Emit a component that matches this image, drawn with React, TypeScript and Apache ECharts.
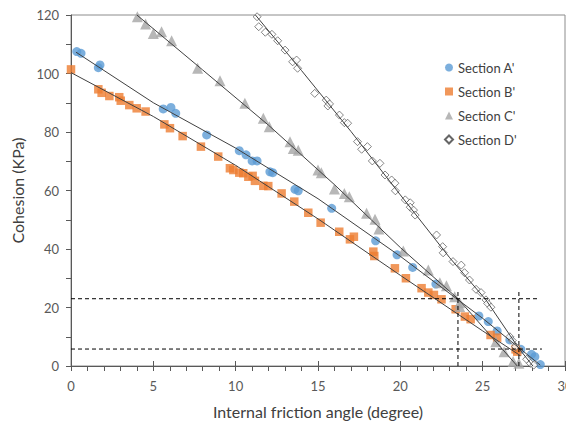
import React, { useEffect, useRef } from "react";
import * as echarts from "echarts";

// Scatter data: [friction angle (deg), cohesion (KPa)]
const sectionA: number[][] = [
  [0.35, 107.5], [0.61, 106.9], [1.66, 102.0], [1.76, 102.9], [5.6, 87.9], [6.07, 88.4],
  [6.36, 86.4], [8.24, 79.0], [10.22, 73.6], [10.63, 72.2], [11.0, 70.1], [11.3, 70.1],
  [12.08, 66.4], [12.25, 66.1], [13.6, 60.4], [13.8, 59.9], [15.83, 53.9], [18.5, 42.8],
  [19.8, 38.0], [20.75, 33.7], [22.16, 28.0], [24.77, 17.1], [25.34, 15.2], [25.88, 12.0],
  [26.65, 8.9], [27.32, 5.7], [27.97, 4.0], [28.17, 3.2], [28.5, 0.5],
];
const sectionB: number[][] = [
  [0, 101.4], [1.66, 94.6], [1.86, 93.4], [2.33, 92.3], [2.93, 91.9], [3.02, 90.7],
  [3.54, 89.2], [3.99, 88.1], [4.53, 87.0], [5.67, 82.6], [6.01, 81.3], [6.78, 78.6],
  [7.89, 75.0], [8.94, 71.6], [9.65, 67.6], [9.86, 67.0], [10.22, 66.1], [10.46, 65.9],
  [10.77, 64.7], [11.03, 65.0], [11.17, 63.3], [11.68, 61.6], [11.98, 61.5], [12.79, 59.0],
  [13.56, 56.2], [14.41, 52.4], [15.16, 49.0], [16.29, 45.9], [16.94, 43.3], [17.18, 44.2],
  [18.36, 39.1], [18.42, 37.6], [19.67, 33.4], [20.34, 30.0], [21.29, 26.6], [21.7, 25.1],
  [22.04, 24.3], [22.5, 22.8], [23.36, 19.4], [23.92, 16.9], [24.27, 16.0], [25.48, 10.6],
  [25.88, 9.7], [27.0, 5.7], [27.1, 4.9],
];
const sectionC: number[][] = [
  [4.03, 119.4], [4.53, 116.9], [5.0, 113.7], [5.5, 114.3], [6.11, 111.2], [7.69, 101.8],
  [9.05, 97.5], [10.56, 89.8], [11.68, 84.7], [12.04, 81.8], [13.3, 76.7], [13.5, 74.4],
  [13.8, 73.8], [15.0, 67.0], [15.2, 66.1], [16.0, 60.5], [16.6, 59.0], [16.9, 57.9],
  [17.95, 52.2], [18.46, 50.2], [18.7, 46.8], [20.18, 39.3], [21.7, 32.8], [22.4, 28.5],
  [22.8, 27.4], [23.3, 23.7], [23.6, 21.6], [23.6, 20.3], [25.8, 8.3], [26.3, 4.9],
  [26.85, 1.5], [27.2, 0.9],
];
const sectionD: number[][] = [
  [11.3, 119.4], [11.4, 116.0], [11.8, 114.1], [12.2, 113.4], [12.55, 111.2], [13.0, 108.0],
  [13.46, 104.0], [13.7, 104.6], [13.76, 101.8], [14.8, 93.2], [15.5, 90.9], [15.6, 88.9],
  [15.7, 89.6], [16.3, 85.8], [16.6, 83.2], [16.8, 83.0], [17.4, 76.7], [17.65, 74.1],
  [18.0, 75.0], [18.3, 70.1], [18.76, 69.3], [19.07, 65.3], [19.47, 63.6], [19.67, 62.5],
  [19.7, 59.9], [20.3, 56.8], [20.6, 55.8], [20.6, 54.3], [20.8, 53.3], [20.9, 51.6],
  [22.2, 44.8], [22.57, 40.8], [22.6, 38.7], [23.2, 35.7], [23.7, 34.5], [23.9, 31.9],
  [24.2, 29.4], [24.6, 26.2], [24.9, 25.1], [25.2, 22.6], [25.3, 21.4], [25.5, 20.1],
  [26.65, 10.0], [26.8, 8.7], [27.0, 6.6], [27.67, 2.3], [27.9, 0.9], [28.1, 0.3],
];

// Trend lines
const trendA: number[][] = [[0.3, 107.3], [5, 90], [10, 74.5], [15, 57.2], [20, 37.5], [25, 16.3], [28.5, 0.3]];
const trendB: number[][] = [[0, 100.3], [5, 85.3], [10, 68.6], [15, 50.3], [20, 31], [25, 12], [27.3, 3.5]];
const trendC: number[][] = [[4, 120], [8, 101.2], [12, 82.3], [16, 62], [20, 40.5], [23.5, 23], [27.1, 0]];
const trendD: number[][] = [[11.2, 120], [14, 101], [17, 80.2], [20, 58.5], [23, 37], [25.2, 22.6], [27.2, 6], [28.05, 0]];

// Dashed reference lines
const refUpperH: number[][] = [[0, 23], [28.4, 23]];
const refUpperV: number[][] = [[23.5, 0], [23.5, 26.3]];
const refLowerH: number[][] = [[0, 5.8], [28.6, 5.8]];
const refLowerV: number[][] = [[27.2, 0], [27.2, 25.4]];

const seriesNames = ["Section A'", "Section B'", "Section C'", "Section D'"];

const FONT = "Lato";

export default function App() {
  const ref = useRef<HTMLDivElement>(null);
  useEffect(() => {
    if (!ref.current) return;
    const chart = echarts.init(ref.current, undefined, { renderer: "svg" });
    const trendStyle = { color: "#404040", width: 1 };
    const dashStyle = { color: "#000", width: 1, type: [4, 3] as any };
    const mkLine = (data: number[][], style: any, z = 3) => ({
      type: "line",
      data,
      showSymbol: false,
      symbol: "none",
      silent: true,
      lineStyle: style,
      z,
    });
    chart.setOption({
      animation: false,
      textStyle: { fontFamily: FONT },
      grid: {
        left: 71, top: 15, right: 1, bottom: 55,
        outerBoundsMode: "none",
        containLabel: false,
        show: true, borderColor: "#8c8c8c", borderWidth: 1,
      },
      legend: {
        data: seriesNames,
        orient: "vertical",
        left: 439,
        top: 56,
        itemWidth: 8,
        itemHeight: 8,
        itemGap: 11,
        textStyle: { fontFamily: FONT, fontSize: 13, color: "#404040" },
      },
      xAxis: [
        {
          type: "value", min: 0, max: 30, interval: 5,
          name: "Internal friction angle (degree)",
          nameLocation: "middle", nameGap: 37,
          nameTextStyle: { fontFamily: FONT, fontSize: 16, color: "#404040" },
          axisLine: { show: true, onZero: false, lineStyle: { color: "#595959" } },
          axisTick: { show: true, length: 5, lineStyle: { color: "#595959" } },
          minorTick: { show: true, splitNumber: 5, length: 5, lineStyle: { color: "#595959" } },
          axisLabel: { margin: 13, fontFamily: FONT, fontSize: 13, color: "#595959" },
          splitLine: { show: false },
        },
        {
          type: "value", min: 0, max: 30, interval: 5, position: "bottom",
          axisLine: { show: false },
          axisTick: { show: true, inside: true, length: 5, lineStyle: { color: "#595959" } },
          axisLabel: { show: false },
          splitLine: { show: false },
        },
      ],
      yAxis: {
        type: "value", min: 0, max: 120, interval: 20,
        name: "Cohesion (KPa)",
        nameLocation: "middle", nameGap: 39,
        nameTextStyle: { fontFamily: FONT, fontSize: 16, color: "#404040" },
        axisLine: { show: true, onZero: false, lineStyle: { color: "#595959" } },
        axisTick: { show: true, length: 5, lineStyle: { color: "#595959" } },
        minorTick: { show: true, splitNumber: 2, length: 5, lineStyle: { color: "#595959" } },
        axisLabel: { margin: 12, fontFamily: FONT, fontSize: 13, color: "#595959" },
        splitLine: { show: false },
      },
      series: [
        {
          name: seriesNames[0], type: "scatter", data: sectionA,
          symbol: "circle", symbolSize: 9,
          itemStyle: { color: "#5B9BD5" }, z: 2,
        },
        {
          name: seriesNames[1], type: "scatter", data: sectionB,
          symbol: "rect", symbolSize: 8.5,
          itemStyle: { color: "#ED7D31" }, z: 2,
        },
        {
          name: seriesNames[2], type: "scatter", data: sectionC,
          symbol: "triangle", symbolSize: 11,
          itemStyle: { color: "#A5A5A5" }, z: 2,
        },
        {
          name: seriesNames[3], type: "scatter", data: sectionD,
          symbol: "diamond", symbolSize: 8,
          itemStyle: { color: "#ffffff", borderColor: "#404040", borderWidth: 0.8 }, z: 2,
        },
        mkLine(trendA, trendStyle),
        mkLine(trendB, trendStyle),
        mkLine(trendC, trendStyle),
        mkLine(trendD, trendStyle),
        mkLine(refUpperH, dashStyle, 4),
        mkLine(refUpperV, dashStyle, 4),
        mkLine(refLowerH, dashStyle, 4),
        mkLine(refLowerV, dashStyle, 4),
      ],
    });
    return () => chart.dispose();
  }, []);
  return (
    <div
      ref={ref}
      style={{ position: "absolute", left: 0, top: 0, width: 566, height: 421, background: "#fff" }}
    />
  );
}
